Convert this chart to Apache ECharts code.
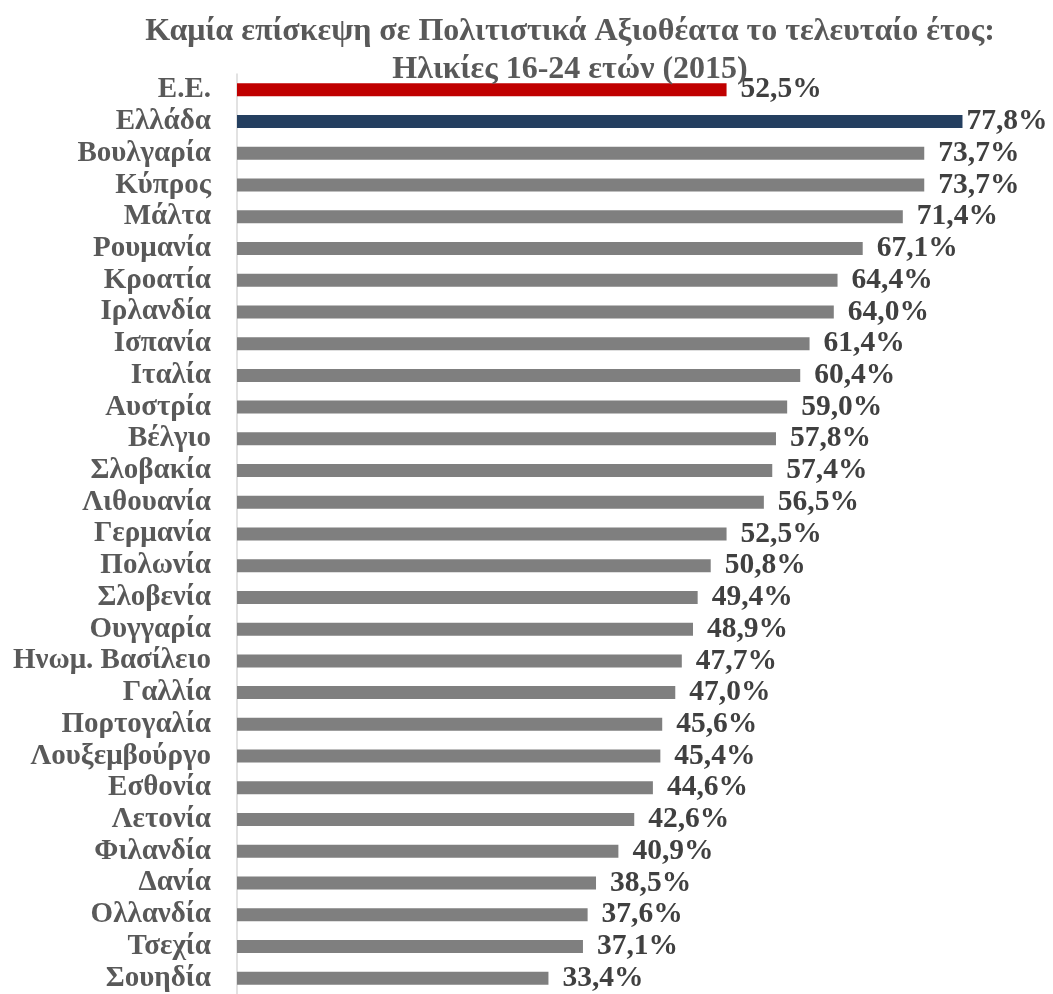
<!DOCTYPE html>
<html>
<head>
    <meta charset='utf-8'>
    <script src="https://cdn.jsdelivr.net/npm/echarts@6/dist/echarts.min.js"></script>
</head>
<body>
<style>
    html, body, #main {
        width: 100%;
        height: 100%;
        margin: 0;
        padding: 0;
        background: #fff;
    }
</style>
<div id="main"></div>
<script>
    var countries = ['Ε.Ε.', 'Ελλάδα', 'Βουλγαρία', 'Κύπρος', 'Μάλτα', 'Ρουμανία', 'Κροατία', 'Ιρλανδία',
        'Ισπανία', 'Ιταλία', 'Αυστρία', 'Βέλγιο', 'Σλοβακία', 'Λιθουανία', 'Γερμανία', 'Πολωνία',
        'Σλοβενία', 'Ουγγαρία', 'Ηνωμ. Βασίλειο', 'Γαλλία', 'Πορτογαλία', 'Λουξεμβούργο', 'Εσθονία',
        'Λετονία', 'Φιλανδία', 'Δανία', 'Ολλανδία', 'Τσεχία', 'Σουηδία'];
    var values = [52.5, 77.8, 73.7, 73.7, 71.4, 67.1, 64.4, 64.0, 61.4, 60.4, 59.0, 57.8, 57.4, 56.5,
        52.5, 50.8, 49.4, 48.9, 47.7, 47.0, 45.6, 45.4, 44.6, 42.6, 40.9, 38.5, 37.6, 37.1, 33.4];

    var chart = echarts.init(document.getElementById('main'));

    var font = '"Liberation Serif", "Times New Roman", serif';
    var data = values.map(function (v, i) {
        var color = '#7f7f7f';
        if (i === 0) color = '#c00000';
        if (i === 1) color = '#243f60';
        var item = { value: v, itemStyle: { color: color } };
        if (i === 1) item.label = { distance: 4 };
        return item;
    });

    chart.setOption({
        animation: false,
        title: {
            text: 'Καμία επίσκεψη σε Πολιτιστικά Αξιοθέατα το τελευταίο έτος:\nΗλικίες 16-24 ετών (2015)',
            left: 565,
            top: 8,
            textAlign: 'center',
            textStyle: {
                fontFamily: font,
                fontWeight: 'bold',
                fontSize: 32,
                lineHeight: 38,
                color: '#595959'
            }
        },
        grid: {
            left: 237,
            right: 70,
            top: 74,
            height: 921.5
        },
        xAxis: {
            type: 'value',
            min: 0,
            max: 80,
            show: false
        },
        yAxis: {
            type: 'category',
            inverse: true,
            data: countries,
            axisTick: { show: false },
            axisLine: { lineStyle: { color: '#d9d9d9', width: 1.5 } },
            axisLabel: {
                interval: 0,
                margin: 26,
                fontFamily: font,
                fontWeight: 'bold',
                fontSize: 29,
                color: '#595959'
            }
        },
        series: [{
            type: 'bar',
            data: data,
            barWidth: 13,
            label: {
                show: true,
                position: 'right',
                distance: 14,
                fontFamily: font,
                fontWeight: 'bold',
                fontSize: 29.5,
                color: '#404040',
                formatter: function (p) {
                    return p.value.toFixed(1).replace('.', ',') + '%';
                }
            }
        }]
    });
</script>
</body>
</html>
